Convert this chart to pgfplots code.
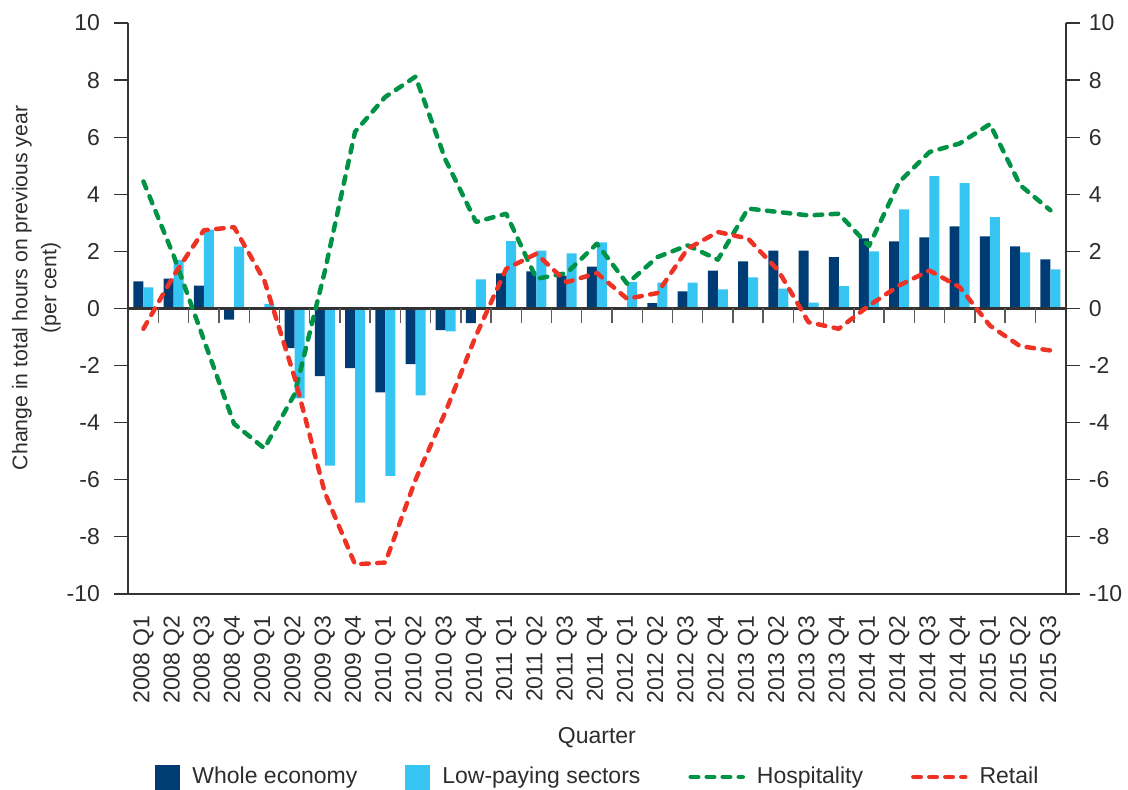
\documentclass[border=0pt]{standalone}
\usepackage{fontspec}
\setmainfont{Liberation Sans}
\usepackage{pgfplots}
\pgfplotsset{compat=1.18}
\usepackage{pgfplotstable}
\definecolor{darkblue}{RGB}{0,60,116}
\definecolor{lightblue}{RGB}{54,196,242}
\definecolor{hgreen}{RGB}{0,146,69}
\definecolor{rred}{RGB}{238,50,36}
\definecolor{axisgray}{RGB}{51,51,51}
\definecolor{textgray}{RGB}{45,45,45}
\pgfplotstableread{
i w l h r
0 0.95 0.74 4.45 -0.71
1 1.05 1.70 1.85 1.15
2 0.80 2.76 -1.10 2.74
3 -0.39 2.17 -4.04 2.85
4 0.00 0.16 -4.90 0.98
5 -1.39 -3.15 -3.00 -2.41
6 -2.37 -5.50 1.30 -6.45
7 -2.09 -6.80 6.19 -8.96
8 -2.94 -5.86 7.41 -8.90
9 -1.95 -3.04 8.12 -6.00
10 -0.76 -0.80 5.19 -3.60
11 -0.51 1.02 3.03 -0.95
12 1.23 2.36 3.32 1.39
13 1.30 2.03 1.04 1.92
14 1.15 1.93 1.24 0.92
15 1.47 2.32 2.27 1.24
16 0.00 0.93 0.87 0.34
17 0.19 0.91 1.80 0.54
18 0.60 0.91 2.21 2.09
19 1.33 0.67 1.71 2.68
20 1.65 1.09 3.50 2.45
21 2.03 0.70 3.38 1.33
22 2.03 0.21 3.26 -0.48
23 1.80 0.78 3.32 -0.71
24 2.46 2.00 2.19 0.10
25 2.35 3.47 4.43 0.81
26 2.49 4.64 5.48 1.33
27 2.88 4.39 5.78 0.75
28 2.53 3.20 6.46 -0.60
29 2.18 1.97 4.32 -1.32
30 1.72 1.37 3.44 -1.47
}\datatable
\newcommand{\chartfont}{\fontsize{11.5bp}{14.5bp}\selectfont}
\newcommand{\ylabfont}{\fontsize{10.6bp}{14.5bp}\selectfont}
\tikzset{
  dashline/.style={line width=2.25bp, dash pattern=on 3.75bp off 4.25bp, line cap=round, line join=round},
}
\pgfplotsset{
  darkleg/.style={legend image code/.code={\fill[darkblue] (0bp,-6.25bp) rectangle (12.5bp,6.25bp);}},
  lightleg/.style={legend image code/.code={\fill[lightblue] (0bp,-6.25bp) rectangle (12.5bp,6.25bp);}},
  greenleg/.style={legend image code/.code={\draw[hgreen, dashline] (0bp,0bp) -- (26bp,0bp);}},
  redleg/.style={legend image code/.code={\draw[rred, dashline] (0bp,0bp) -- (26bp,0bp);}},
}
\begin{document}
\color{textgray}
\begin{tikzpicture}
\useasboundingbox (0,0) rectangle (564bp,395bp);
\begin{axis}[
  at={(64.15bp,98bp)}, anchor=south west,
  width=468.6bp, height=285.5bp, scale only axis,
  xmin=-0.5, xmax=30.5, ymin=-10, ymax=10,
  axis x line*=bottom, axis y line*=left,
  axis line style={line width=1bp, color=axisgray},
  font=\chartfont,
  /pgf/number format/assume math mode=true,
  xtick={0,...,30},
  xticklabels={2008 Q1,2008 Q2,2008 Q3,2008 Q4,2009 Q1,2009 Q2,2009 Q3,2009 Q4,2010 Q1,2010 Q2,2010 Q3,2010 Q4,2011 Q1,2011 Q2,2011 Q3,2011 Q4,2012 Q1,2012 Q2,2012 Q3,2012 Q4,2013 Q1,2013 Q2,2013 Q3,2013 Q4,2014 Q1,2014 Q2,2014 Q3,2014 Q4,2015 Q1,2015 Q2,2015 Q3},
  xtick style={draw=none},
  xticklabel style={yshift=-3.5bp, rotate=90, anchor=east, inner sep=0pt, font=\chartfont},
  ytick={-10,-8,...,10},
  ytick style={line width=0.6bp, color=axisgray},
  tick align=outside, major tick length=7bp,
  yticklabel style={anchor=east, inner sep=0pt, xshift=-7bp, font=\chartfont},
  ylabel={Change in total hours on previous year\\(per cent)},
  ylabel style={align=center, at={(axis description cs:-0.098,0.536)}, anchor=center, font=\ylabfont},
  xlabel={Quarter},
  xlabel style={at={(axis description cs:0.5,0)}, anchor=center, yshift=-72bp, font=\chartfont},
  legend columns=4,
  legend cell align=left,
  legend style={at={(0.5,0)}, anchor=center, yshift=-91.5bp, draw=none, fill=none, font=\chartfont,
    nodes={inner sep=0pt},
    /tikz/every odd column/.append style={column sep=6bp},
    /tikz/every even column/.append style={column sep=24bp}},
]
\addplot[ybar, bar width=5bp, bar shift=-2.5bp, fill=darkblue, draw=none, darkleg]
  table[x=i,y=w]{\datatable};
\addlegendentry{Whole economy}
\addplot[ybar, bar width=5bp, bar shift=2.5bp, fill=lightblue, draw=none, lightleg]
  table[x=i,y=l]{\datatable};
\addlegendentry{Low-paying sectors}
\draw[line width=1.5bp, axisgray] (axis cs:-0.5,0) -- (axis cs:30.5,0);
\pgfplotsinvokeforeach{0,...,29}{\draw[line width=0.7bp, gray!70!black] (axis cs:#1+0.5,0) -- ([yshift=-7.5bp]axis cs:#1+0.5,0);}
\addplot[color=hgreen, dashline, no markers, greenleg]
  table[x=i,y=h]{\datatable};
\addlegendentry{Hospitality}
\addplot[color=rred, dashline, no markers, redleg]
  table[x=i,y=r]{\datatable};
\addlegendentry{Retail}
\end{axis}
\begin{axis}[
  at={(64.15bp,98bp)}, anchor=south west,
  width=468.6bp, height=285.5bp, scale only axis,
  xmin=-0.5, xmax=30.5, ymin=-10, ymax=10,
  axis x line=none, axis y line*=right,
  axis line style={line width=1bp, color=axisgray},
  /pgf/number format/assume math mode=true,
  ytick={-10,-8,...,10},
  ytick style={line width=0.6bp, color=axisgray},
  tick align=outside, major tick length=7bp,
  yticklabel style={anchor=west, inner sep=0pt, xshift=4.5bp, font=\chartfont},
]
\addplot[draw=none, forget plot] coordinates {(0,0)};
\end{axis}
\end{tikzpicture}
\end{document}
